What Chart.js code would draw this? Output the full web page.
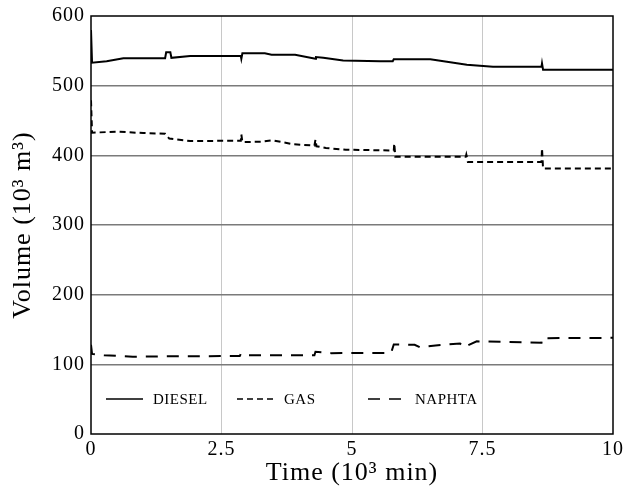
<!DOCTYPE html>
<html>
<head>
<meta charset="utf-8">
<script src="https://cdn.jsdelivr.net/npm/chart.js@4"></script>
<style>
  html, body { margin: 0; padding: 0; background: #fff; }
</style>
</head>
<body>
<canvas id="chart" width="625" height="491"></canvas>
<script>
// time in 10^3 min, volume in 10^3 m3
const dieselT = [0, 0.02, 0.3, 0.62, 1.42, 1.44, 1.52, 1.54, 1.9, 2.87, 2.88, 2.9, 3.33, 3.46, 3.91, 4.3, 4.31, 4.45, 4.83, 5.54, 5.78, 5.8, 6.5, 7.2, 7.7, 8.63, 8.64, 8.66, 10];
const dieselV = [580, 533, 535, 539.5, 539.5, 548, 548, 540, 542.5, 542.5, 538.5, 546.5, 546.5, 544.5, 544.5, 538.5, 541, 540, 536, 535, 535, 538, 538, 530, 527, 527, 532, 523, 523];

const gasT = [0, 0.02, 0.5, 1.0, 1.42, 1.5, 1.9, 2.87, 2.88, 2.9, 3.26, 3.48, 3.87, 4.28, 4.3, 4.32, 4.5, 4.88, 5.8, 5.81, 5.83, 7.18, 7.19, 7.22, 8.63, 8.64, 8.66, 10];
const gasV = [479, 432.5, 434, 432, 431, 424, 420.5, 421, 430, 419, 419.5, 421.5, 416, 414, 422.5, 413, 410.5, 408, 407, 417, 398, 398, 401, 390.5, 390.5, 410, 381, 381];

const naphtaT = [0, 0.02, 0.25, 0.8, 1.5, 2.85, 2.87, 2.9, 4.28, 4.3, 4.6, 5.75, 5.8, 6.2, 6.3, 6.6, 7.07, 7.14, 7.39, 8.63, 8.64, 10];
const naphtaV = [128, 115, 113, 111, 111.5, 112, 115, 113, 113, 118, 116, 116.5, 128.5, 128, 124.5, 127, 130, 124.5, 133, 131, 137.5, 138];

const seriesNames = ['DIESEL', 'GAS', 'NAPHTA'];
const xTicks = [0, 2.5, 5, 7.5, 10];
const yTicks = [0, 100, 200, 300, 400, 500, 600];

function toPoints(t, v) {
    return t.map((x, i) => ({ x: x, y: v[i] }));
}

const serif = "'Liberation Serif', 'DejaVu Serif', serif";

// slightly wider text, closer to the original typeface
const spacing = {
    id: 'spacing',
    beforeDraw(chart) {
        chart.ctx.letterSpacing = '1px';
    }
};

// legend drawn inside the plot, bottom left
const innerLegend = {
    id: 'innerLegend',
    afterDraw(chart) {
        const ctx = chart.ctx;
        const area = chart.chartArea;
        const y = area.bottom - 35;
        const starts = [area.left + 15, area.left + 146, area.left + 277];
        ctx.save();
        ctx.letterSpacing = '0.5px';
        ctx.font = '15px ' + serif;
        ctx.textBaseline = 'middle';
        ctx.fillStyle = '#000';
        chart.data.datasets.forEach((ds, i) => {
            const x = starts[i];
            ctx.beginPath();
            ctx.setLineDash(ds.borderDash || []);
            ctx.lineWidth = 1.5;
            ctx.strokeStyle = '#000';
            ctx.moveTo(x, y);
            ctx.lineTo(x + 37, y);
            ctx.stroke();
            ctx.setLineDash([]);
            ctx.fillText(ds.label, x + 47, y + 1);
        });
        // frame
        ctx.lineWidth = 1.5;
        ctx.strokeStyle = '#000';
        ctx.strokeRect(area.left, area.top, area.right - area.left, area.bottom - area.top);
        ctx.restore();
    }
};

new Chart(document.getElementById('chart'), {
    type: 'line',
    data: {
        datasets: [{
            label: seriesNames[0],
            data: toPoints(dieselT, dieselV),
            borderColor: '#000',
            borderWidth: 2,
            pointRadius: 0,
            tension: 0
        }, {
            label: seriesNames[1],
            data: toPoints(gasT, gasV),
            borderColor: '#000',
            borderWidth: 2,
            borderDash: [6, 4],
            pointRadius: 0,
            tension: 0
        }, {
            label: seriesNames[2],
            data: toPoints(naphtaT, naphtaV),
            borderColor: '#000',
            borderWidth: 2,
            borderDash: [12, 9],
            pointRadius: 0,
            tension: 0
        }]
    },
    options: {
        responsive: false,
        animation: false,
        layout: { padding: { top: 16, right: 12, left: 0, bottom: 0 } },
        plugins: {
            legend: { display: false },
            tooltip: { enabled: false }
        },
        scales: {
            x: {
                type: 'linear',
                min: 0,
                max: 10,
                afterBuildTicks: (s) => { s.ticks = xTicks.map(v => ({ value: v })); },
                afterFit: (s) => { s.height = 57; s.paddingLeft = 0; s.paddingRight = 0; },
                ticks: {
                    color: '#000',
                    padding: 4,
                    maxRotation: 0,
                    font: { family: serif, size: 20 },
                    callback: (v) => String(v)
                },
                grid: {
                    drawTicks: false,
                    color: (c) => (c.tick && (c.tick.value === 0 || c.tick.value === 10)) ? 'rgba(0,0,0,0)' : '#c8c8c8',
                    lineWidth: 1
                },
                border: { display: false },
                title: {
                    display: true,
                    text: 'Time (10³ min)',
                    color: '#000',
                    font: { family: serif, size: 26 },
                    padding: { top: 0, bottom: 2 }
                }
            },
            y: {
                min: 0,
                max: 600,
                afterBuildTicks: (s) => { s.ticks = yTicks.map(v => ({ value: v })); },
                afterFit: (s) => { s.width = 91; s.paddingTop = 0; s.paddingBottom = 0; },
                ticks: {
                    color: '#000',
                    padding: 6,
                    font: { family: serif, size: 20 },
                    callback: (v) => String(v)
                },
                grid: {
                    drawTicks: false,
                    color: (c) => (c.tick && (c.tick.value === 0 || c.tick.value === 600)) ? 'rgba(0,0,0,0)' : '#7a7a7a',
                    lineWidth: 1.5
                },
                border: { display: false },
                title: {
                    display: true,
                    text: 'Volume (10³ m³)',
                    color: '#000',
                    font: { family: serif, size: 26 },
                    padding: { top: 8, bottom: 0 }
                }
            }
        }
    },
    plugins: [spacing, innerLegend]
});
</script>
</body>
</html>
